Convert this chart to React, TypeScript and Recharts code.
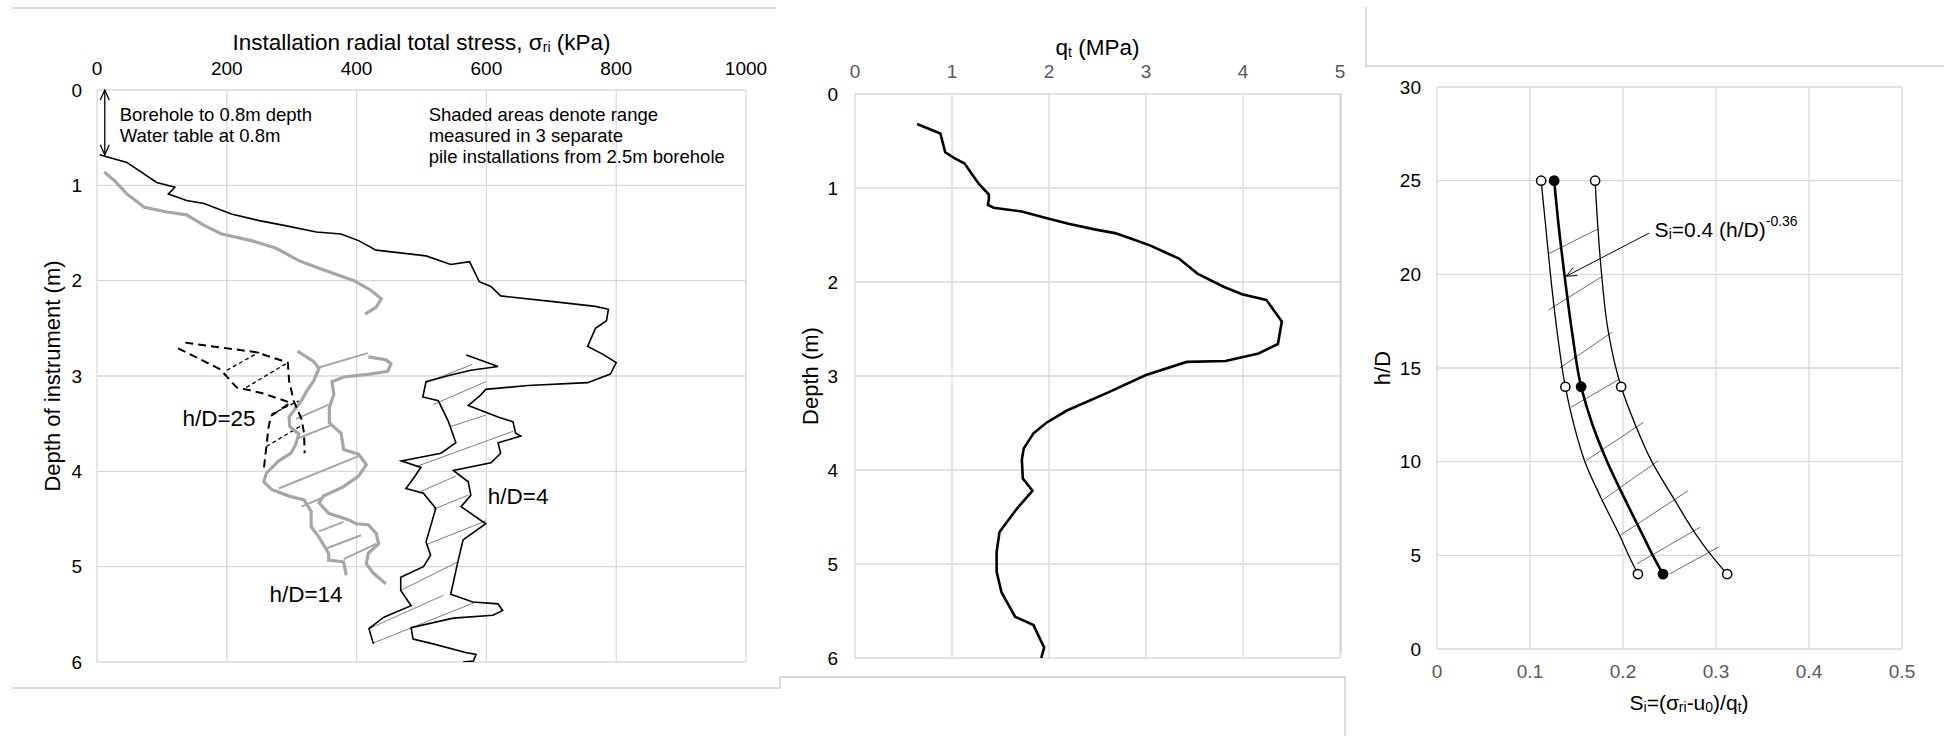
import React from "react";
import {
  ScatterChart,
  Scatter,
  XAxis,
  YAxis,
  CartesianGrid,
  ReferenceLine,
  ReferenceDot,
} from "recharts";

const FONT = '"Liberation Sans", Arial, Helvetica, sans-serif';
const GRID = "#d9d9d9";
const GRAY = "#a6a6a6";
const FRAME = "#cfcfcf";

type Pt = [number, number];
type Seg = [number, number, number, number];

// ---- left panel: installation radial total stress (kPa) vs depth of instrument (m)
const STRESS_TICKS = [0, 200, 400, 600, 800, 1000];
const DEPTH_TICKS = [0, 1, 2, 3, 4, 5, 6];

// h/D=4, range boundaries
const hd4Right: Pt[] = [
  [4, 0.68], [46, 0.76], [92, 0.97], [120, 1.02], [110, 1.09], [138, 1.16], [165, 1.19],
  [207, 1.3], [250, 1.37], [288, 1.42], [338, 1.49], [376, 1.51], [403, 1.58], [430, 1.68],
  [507, 1.74], [545, 1.83], [574, 1.8], [589, 2.01], [607, 2.06], [622, 2.16], [703, 2.22],
  [768, 2.27], [788, 2.3], [785, 2.42], [768, 2.5], [756, 2.69], [779, 2.77], [800, 2.86],
  [791, 2.98], [756, 3.07], [664, 3.1], [599, 3.14], [591, 3.2], [572, 3.31], [618, 3.43],
  [641, 3.48], [645, 3.6], [653, 3.63], [618, 3.7], [622, 3.81], [607, 3.91], [549, 3.99],
  [572, 4.11], [576, 4.25], [561, 4.37], [599, 4.55], [564, 4.72], [556, 4.95], [545, 5.29],
  [579, 5.37], [618, 5.39], [625, 5.46], [610, 5.51], [549, 5.54], [484, 5.64], [487, 5.76],
  [518, 5.81], [568, 5.9], [584, 5.92], [580, 5.99], [564, 6.0],
];
const hd4Left: Pt[] = [
  [569, 2.78], [618, 2.9], [576, 2.94], [545, 2.99], [507, 3.06], [502, 3.22], [526, 3.26],
  [541, 3.47], [553, 3.7], [530, 3.81], [469, 3.89], [499, 3.96], [488, 4.07], [476, 4.18],
  [503, 4.23], [522, 4.39], [507, 4.74], [514, 4.88], [503, 5.0], [468, 5.11], [468, 5.25],
  [484, 5.41], [442, 5.53], [419, 5.65], [426, 5.81],
];
// h/D=14
const hd14Upper: Pt[] = [
  [11, 0.86], [27, 0.95], [46, 1.09], [73, 1.23], [108, 1.28], [138, 1.31], [165, 1.42],
  [192, 1.51], [238, 1.58], [276, 1.66], [311, 1.79], [342, 1.87], [396, 2.0], [422, 2.1],
  [438, 2.19], [430, 2.28], [413, 2.35],
];
const hd14Right: Pt[] = [
  [418, 2.8], [445, 2.83], [453, 2.87], [448, 2.95], [420, 2.98], [380, 3.01], [362, 3.06],
  [365, 3.19], [358, 3.33], [358, 3.49], [376, 3.6], [380, 3.77], [403, 3.82], [415, 3.93],
  [403, 4.05], [380, 4.16], [349, 4.26], [342, 4.33], [357, 4.44], [388, 4.51], [399, 4.55],
  [418, 4.56], [430, 4.65], [434, 4.76], [418, 4.86], [415, 4.97], [426, 5.07], [445, 5.18],
];
const hd14Left: Pt[] = [
  [309, 2.74], [334, 2.85], [342, 2.92], [334, 3.05], [322, 3.17], [315, 3.26], [307, 3.33],
  [296, 3.43], [297, 3.53], [311, 3.61], [306, 3.72], [299, 3.81], [280, 3.89], [261, 4.02],
  [257, 4.11], [269, 4.19], [296, 4.26], [319, 4.3], [330, 4.42], [330, 4.58], [342, 4.69],
  [357, 4.86], [357, 4.93], [380, 4.95], [384, 5.09],
];
// h/D=25
const hd25Right: Pt[] = [
  [136, 2.65], [190, 2.7], [245, 2.75], [294, 2.86], [296, 3.05], [303, 3.26], [315, 3.45],
  [319, 3.6], [320, 3.81],
];
const hd25Left: Pt[] = [
  [125, 2.71], [190, 2.93], [215, 3.12], [255, 3.18], [298, 3.28], [268, 3.42], [264, 3.55],
  [261, 3.74], [257, 3.98],
];

// hatching between boundaries [x1, d1, x2, d2]
const hd4Hatch: Seg[] = [
  [507, 3.07, 578, 2.88], [518, 3.3, 599, 3.06], [545, 3.53, 599, 3.41], [492, 3.95, 641, 3.58],
  [499, 4.21, 553, 4.05], [518, 4.4, 572, 4.25], [507, 4.77, 599, 4.52], [468, 5.25, 556, 4.95],
  [419, 5.65, 534, 5.3], [426, 5.8, 584, 5.37],
];
const hd14Hatch: Seg[] = [
  [342, 2.91, 417, 2.76], [307, 3.45, 357, 3.3], [311, 3.65, 363, 3.51], [280, 4.18, 403, 3.84],
  [315, 4.37, 346, 4.28], [342, 4.63, 380, 4.53], [353, 4.81, 407, 4.67], [380, 4.92, 430, 4.76],
];
const hd25Hatch: Seg[] = [
  [200, 2.94, 250, 2.75], [230, 3.12, 294, 2.86], [269, 3.4, 311, 3.26], [261, 3.74, 315, 3.52],
];

// ---- middle panel: cone resistance qt (MPa) vs depth (m)
const QT_TICKS = [0, 1, 2, 3, 4, 5];
const qtProfile: Pt[] = [
  [0.64, 0.32], [0.88, 0.42], [0.93, 0.62], [1.02, 0.68], [1.13, 0.74], [1.21, 0.86],
  [1.28, 0.96], [1.38, 1.07], [1.38, 1.12], [1.37, 1.18], [1.43, 1.21], [1.72, 1.25],
  [1.97, 1.32], [2.2, 1.38], [2.47, 1.44], [2.68, 1.48], [2.85, 1.54], [3.04, 1.61],
  [3.23, 1.7], [3.34, 1.75], [3.53, 1.91], [3.8, 2.05], [3.99, 2.13], [4.24, 2.19],
  [4.4, 2.42], [4.36, 2.66], [4.16, 2.76], [3.82, 2.84], [3.42, 2.85], [3.0, 2.99],
  [2.6, 3.18], [2.18, 3.37], [1.97, 3.5], [1.84, 3.61], [1.74, 3.77], [1.72, 3.89],
  [1.73, 4.09], [1.83, 4.22], [1.67, 4.41], [1.49, 4.66], [1.46, 4.87], [1.46, 5.08],
  [1.51, 5.3], [1.65, 5.56], [1.84, 5.65], [1.95, 5.89], [1.92, 6.0],
];

// ---- right panel: Si vs h/D
const SI_TICKS = [0, 0.1, 0.2, 0.3, 0.4, 0.5];
const HD_TICKS = [0, 5, 10, 15, 20, 25, 30];
const hdLevels = [25, 22.5, 20, 17, 14, 12, 10, 8, 6, 5, 4];
const siLower = [0.112, 0.117, 0.122, 0.129, 0.138, 0.147, 0.159, 0.177, 0.197, 0.206, 0.216];
const siMean = [0.126, 0.131, 0.137, 0.145, 0.155, 0.167, 0.183, 0.202, 0.222, 0.232, 0.243];
const siUpper = [0.17, 0.173, 0.177, 0.184, 0.198, 0.213, 0.231, 0.255, 0.28, 0.295, 0.312];
const hdMeasured = [25, 14, 4];
const siLowerMeasured = [0.112, 0.138, 0.216];
const siMeanMeasured = [0.126, 0.155, 0.243];
const siUpperMeasured = [0.17, 0.198, 0.312];
const siHatch: Seg[] = [
  [0.12, 21.1, 0.172, 22.4], [0.12, 18.1, 0.178, 19.9], [0.132, 15.0, 0.188, 16.9],
  [0.144, 12.9, 0.196, 14.4], [0.16, 10.05, 0.222, 12.1], [0.178, 7.95, 0.238, 10.05],
  [0.197, 6.07, 0.27, 8.45], [0.215, 4.55, 0.283, 6.5], [0.25, 4.0, 0.303, 5.45],
];

const pts = (arr: Pt[]) => arr.map(([x, y]) => ({ x, y }));
const zip = (xs: number[], ys: number[]) => xs.map((x, i) => ({ x, y: ys[i] }));

const noDot = () => <g />;

const textAt = (content: React.ReactNode, anchor: "start" | "middle" = "start", size = 18.5) =>
  (p: any) => (
    <text
      x={p.cx}
      y={p.cy}
      textAnchor={anchor}
      dominantBaseline="central"
      fontSize={size}
      fontFamily={FONT}
      fill="#000"
    >
      {content}
    </text>
  );

const headPath = (x: number, y: number, a: number) => {
  const L = 11;
  const w = 0.42;
  return `M${x - L * Math.cos(a - w)},${y - L * Math.sin(a - w)} L${x},${y} L${x - L * Math.cos(a + w)},${y - L * Math.sin(a + w)}`;
};

const arrowShape = (both: boolean, width: number) => (p: any) => {
  const { x1, y1, x2, y2 } = p;
  const a = Math.atan2(y2 - y1, x2 - x1);
  return (
    <g stroke="#000" strokeWidth={width} fill="none">
      <line x1={x1} y1={y1} x2={x2} y2={y2} />
      <path d={headPath(x2, y2, a)} />
      {both && <path d={headPath(x1, y1, a + Math.PI)} />}
    </g>
  );
};

const hatchLines = (segs: Seg[], color: string, width: number, dash?: string) =>
  segs.map(([x1, y1, x2, y2], i) => (
    <ReferenceLine
      key={`h-${color}-${i}`}
      segment={[{ x: x1, y: y1 }, { x: x2, y: y2 }]}
      stroke={color}
      strokeWidth={width}
      strokeDasharray={dash}
      ifOverflow="visible"
    />
  ));

const tickStyle = (fill: string) => ({ fill, fontSize: 19, fontFamily: FONT });
const TITLE = 22.5;
const SUB = 14;

function StressChart() {
  return (
    <ScatterChart width={780} height={700} margin={{ top: 0, right: 34, bottom: 38, left: 0 }}>
      <CartesianGrid stroke={GRID} strokeWidth={1.3} />
      <XAxis
        type="number"
        dataKey="x"
        orientation="top"
        domain={[0, 1000]}
        ticks={STRESS_TICKS}
        height={90}
        axisLine={false}
        tickLine={false}
        tickSize={0}
        tickMargin={15}
        tick={tickStyle("#000")}
        allowDataOverflow
        label={() => (
          <text x={421.5} y={42} textAnchor="middle" dominantBaseline="central" fontSize={TITLE} fontFamily={FONT} fill="#000">
            Installation radial total stress, σ
            <tspan fontSize={SUB} dy={5}>ri</tspan>
            <tspan dy={-5}> (kPa)</tspan>
          </text>
        )}
      />
      <YAxis
        type="number"
        dataKey="y"
        reversed
        domain={[0, 6]}
        ticks={DEPTH_TICKS}
        width={97}
        axisLine={false}
        tickLine={false}
        tickSize={0}
        tickMargin={15}
        tick={tickStyle("#000")}
        allowDataOverflow
        label={() => (
          <text x={52} y={376} transform="rotate(-90 52 376)" textAnchor="middle" dominantBaseline="central" fontSize={22} fontFamily={FONT} fill="#000">
            Depth of instrument (m)
          </text>
        )}
      />
      {hatchLines(hd4Hatch, "#7f7f7f", 1)}
      {hatchLines(hd14Hatch, GRAY, 2)}
      {hatchLines(hd25Hatch, "#000", 1.3, "4 3")}
      <Scatter data={pts(hd4Right)} fill="#000" line={{ stroke: "#000", strokeWidth: 1.6 }} shape={noDot} isAnimationActive={false} />
      <Scatter data={pts(hd4Left)} fill="#000" line={{ stroke: "#000", strokeWidth: 1.6 }} shape={noDot} isAnimationActive={false} />
      <Scatter data={pts(hd14Upper)} fill={GRAY} line={{ stroke: GRAY, strokeWidth: 3.2 }} shape={noDot} isAnimationActive={false} />
      <Scatter data={pts(hd14Right)} fill={GRAY} line={{ stroke: GRAY, strokeWidth: 3.2 }} shape={noDot} isAnimationActive={false} />
      <Scatter data={pts(hd14Left)} fill={GRAY} line={{ stroke: GRAY, strokeWidth: 3.2 }} shape={noDot} isAnimationActive={false} />
      <Scatter data={pts(hd25Right)} fill="#000" line={{ stroke: "#000", strokeWidth: 2, strokeDasharray: "8 5" }} shape={noDot} isAnimationActive={false} />
      <Scatter data={pts(hd25Left)} fill="#000" line={{ stroke: "#000", strokeWidth: 2, strokeDasharray: "8 5" }} shape={noDot} isAnimationActive={false} />
      <ReferenceLine segment={[{ x: 12, y: 0 }, { x: 12, y: 0.68 }]} ifOverflow="visible" shape={arrowShape(true, 1.3)} />
      <ReferenceDot x={35} y={0.26} r={0} ifOverflow="visible" shape={textAt("Borehole to 0.8m depth")} />
      <ReferenceDot x={35} y={0.48} r={0} ifOverflow="visible" shape={textAt("Water table at 0.8m")} />
      <ReferenceDot x={511} y={0.26} r={0} ifOverflow="visible" shape={textAt("Shaded areas denote range")} />
      <ReferenceDot x={511} y={0.48} r={0} ifOverflow="visible" shape={textAt("measured in 3 separate")} />
      <ReferenceDot x={511} y={0.7} r={0} ifOverflow="visible" shape={textAt("pile installations from 2.5m borehole")} />
      <ReferenceDot x={188} y={3.45} r={0} ifOverflow="visible" shape={textAt("h/D=25", "middle", 22.5)} />
      <ReferenceDot x={322} y={5.29} r={0} ifOverflow="visible" shape={textAt("h/D=14", "middle", 22.5)} />
      <ReferenceDot x={649} y={4.26} r={0} ifOverflow="visible" shape={textAt("h/D=4", "middle", 22.5)} />
    </ScatterChart>
  );
}

function ConeChart() {
  return (
    <ScatterChart width={580} height={700} margin={{ top: 0, right: 20, bottom: 42, left: 0 }}>
      <CartesianGrid stroke={GRID} strokeWidth={1.3} />
      <XAxis
        type="number"
        dataKey="x"
        orientation="top"
        domain={[0, 5]}
        ticks={QT_TICKS}
        height={94}
        axisLine={false}
        tickLine={false}
        tickSize={0}
        tickMargin={16}
        tick={tickStyle("#595959")}
        allowDataOverflow
        label={() => (
          <text x={317.5} y={47} textAnchor="middle" dominantBaseline="central" fontSize={TITLE} fontFamily={FONT} fill="#000">
            q<tspan fontSize={SUB} dy={5}>t</tspan>
            <tspan dy={-5}> (MPa)</tspan>
          </text>
        )}
      />
      <YAxis
        type="number"
        dataKey="y"
        reversed
        domain={[0, 6]}
        ticks={DEPTH_TICKS}
        width={75}
        axisLine={false}
        tickLine={false}
        tickSize={0}
        tickMargin={17}
        tick={tickStyle("#000")}
        allowDataOverflow
        label={() => (
          <text x={30} y={376} transform="rotate(-90 30 376)" textAnchor="middle" dominantBaseline="central" fontSize={22} fontFamily={FONT} fill="#000">
            Depth (m)
          </text>
        )}
      />
      <Scatter data={pts(qtProfile)} fill="#000" line={{ stroke: "#000", strokeWidth: 2.6 }} shape={noDot} isAnimationActive={false} />
    </ScatterChart>
  );
}

const openCircle = (p: any) => (
  <circle cx={p.cx} cy={p.cy} r={4.6} fill="#fff" stroke="#000" strokeWidth={1.5} />
);
const filledCircle = (p: any) => <circle cx={p.cx} cy={p.cy} r={5.4} fill="#000" />;

function RatioChart() {
  return (
    <ScatterChart width={604} height={736} margin={{ top: 87, right: 42, bottom: 0, left: 0 }}>
      <CartesianGrid stroke={GRID} strokeWidth={1.3} />
      <XAxis
        type="number"
        dataKey="x"
        domain={[0, 0.5]}
        ticks={SI_TICKS}
        height={87}
        axisLine={false}
        tickLine={false}
        tickSize={0}
        tickMargin={16}
        tick={tickStyle("#595959")}
        allowDataOverflow
        label={() => (
          <text x={349} y={702} textAnchor="middle" dominantBaseline="central" fontSize={21} fontFamily={FONT} fill="#000">
            S<tspan fontSize={SUB} dy={5}>i</tspan>
            <tspan dy={-5}>=(σ</tspan>
            <tspan fontSize={SUB} dy={5}>ri</tspan>
            <tspan dy={-5}>-u</tspan>
            <tspan fontSize={SUB} dy={5}>0</tspan>
            <tspan dy={-5}>)/q</tspan>
            <tspan fontSize={SUB} dy={5}>t</tspan>
            <tspan dy={-5}>)</tspan>
          </text>
        )}
      />
      <YAxis
        type="number"
        dataKey="y"
        domain={[0, 30]}
        ticks={HD_TICKS}
        width={97}
        axisLine={false}
        tickLine={false}
        tickSize={0}
        tickMargin={16}
        tick={tickStyle("#000")}
        allowDataOverflow
        label={() => (
          <text x={42} y={368} transform="rotate(-90 42 368)" textAnchor="middle" dominantBaseline="central" fontSize={22} fontFamily={FONT} fill="#000">
            h/D
          </text>
        )}
      />
      {hatchLines(siHatch, "#595959", 0.9)}
      <Scatter data={zip(siLower, hdLevels)} fill="#000" line={{ stroke: "#000", strokeWidth: 1.3 }} lineJointType="monotoneY" shape={noDot} isAnimationActive={false} />
      <Scatter data={zip(siUpper, hdLevels)} fill="#000" line={{ stroke: "#000", strokeWidth: 1.3 }} lineJointType="monotoneY" shape={noDot} isAnimationActive={false} />
      <Scatter data={zip(siMean, hdLevels)} fill="#000" line={{ stroke: "#000", strokeWidth: 2.6 }} lineJointType="monotoneY" shape={noDot} isAnimationActive={false} />
      <Scatter data={zip(siLowerMeasured, hdMeasured)} fill="#fff" shape={openCircle} isAnimationActive={false} />
      <Scatter data={zip(siUpperMeasured, hdMeasured)} fill="#fff" shape={openCircle} isAnimationActive={false} />
      <Scatter data={zip(siMeanMeasured, hdMeasured)} fill="#000" shape={filledCircle} isAnimationActive={false} />
      <ReferenceLine segment={[{ x: 0.228, y: 22.2 }, { x: 0.139, y: 19.9 }]} ifOverflow="visible" shape={arrowShape(false, 1)} />
      <ReferenceDot
        x={0.234}
        y={22.4}
        r={0}
        ifOverflow="visible"
        shape={textAt(
          <>
            S<tspan fontSize={SUB} dy={5}>i</tspan>
            <tspan dy={-5}>=0.4 (h/D)</tspan>
            <tspan fontSize={SUB} dy={-8}>-0.36</tspan>
          </>,
          "start",
          21,
        )}
      />
    </ScatterChart>
  );
}

export default function App() {
  return (
    <div style={{ position: "absolute", left: 0, top: 0, width: 1944, height: 736, background: "#fff", overflow: "hidden" }}>
      <svg width={1944} height={736} style={{ position: "absolute", left: 0, top: 0 }}>
        <g stroke={FRAME} strokeWidth={1.5} fill="none">
          <path d="M12,8 H776" />
          <path d="M12,688 H780 V677 H1345 V736" />
          <path d="M1366,7 V66 H1944" />
          <path d="M1341,93 V653" />
        </g>
      </svg>
      <div style={{ position: "absolute", left: 0, top: 0 }}>
        <StressChart />
      </div>
      <div style={{ position: "absolute", left: 780, top: 0 }}>
        <ConeChart />
      </div>
      <div style={{ position: "absolute", left: 1340, top: 0 }}>
        <RatioChart />
      </div>
    </div>
  );
}
